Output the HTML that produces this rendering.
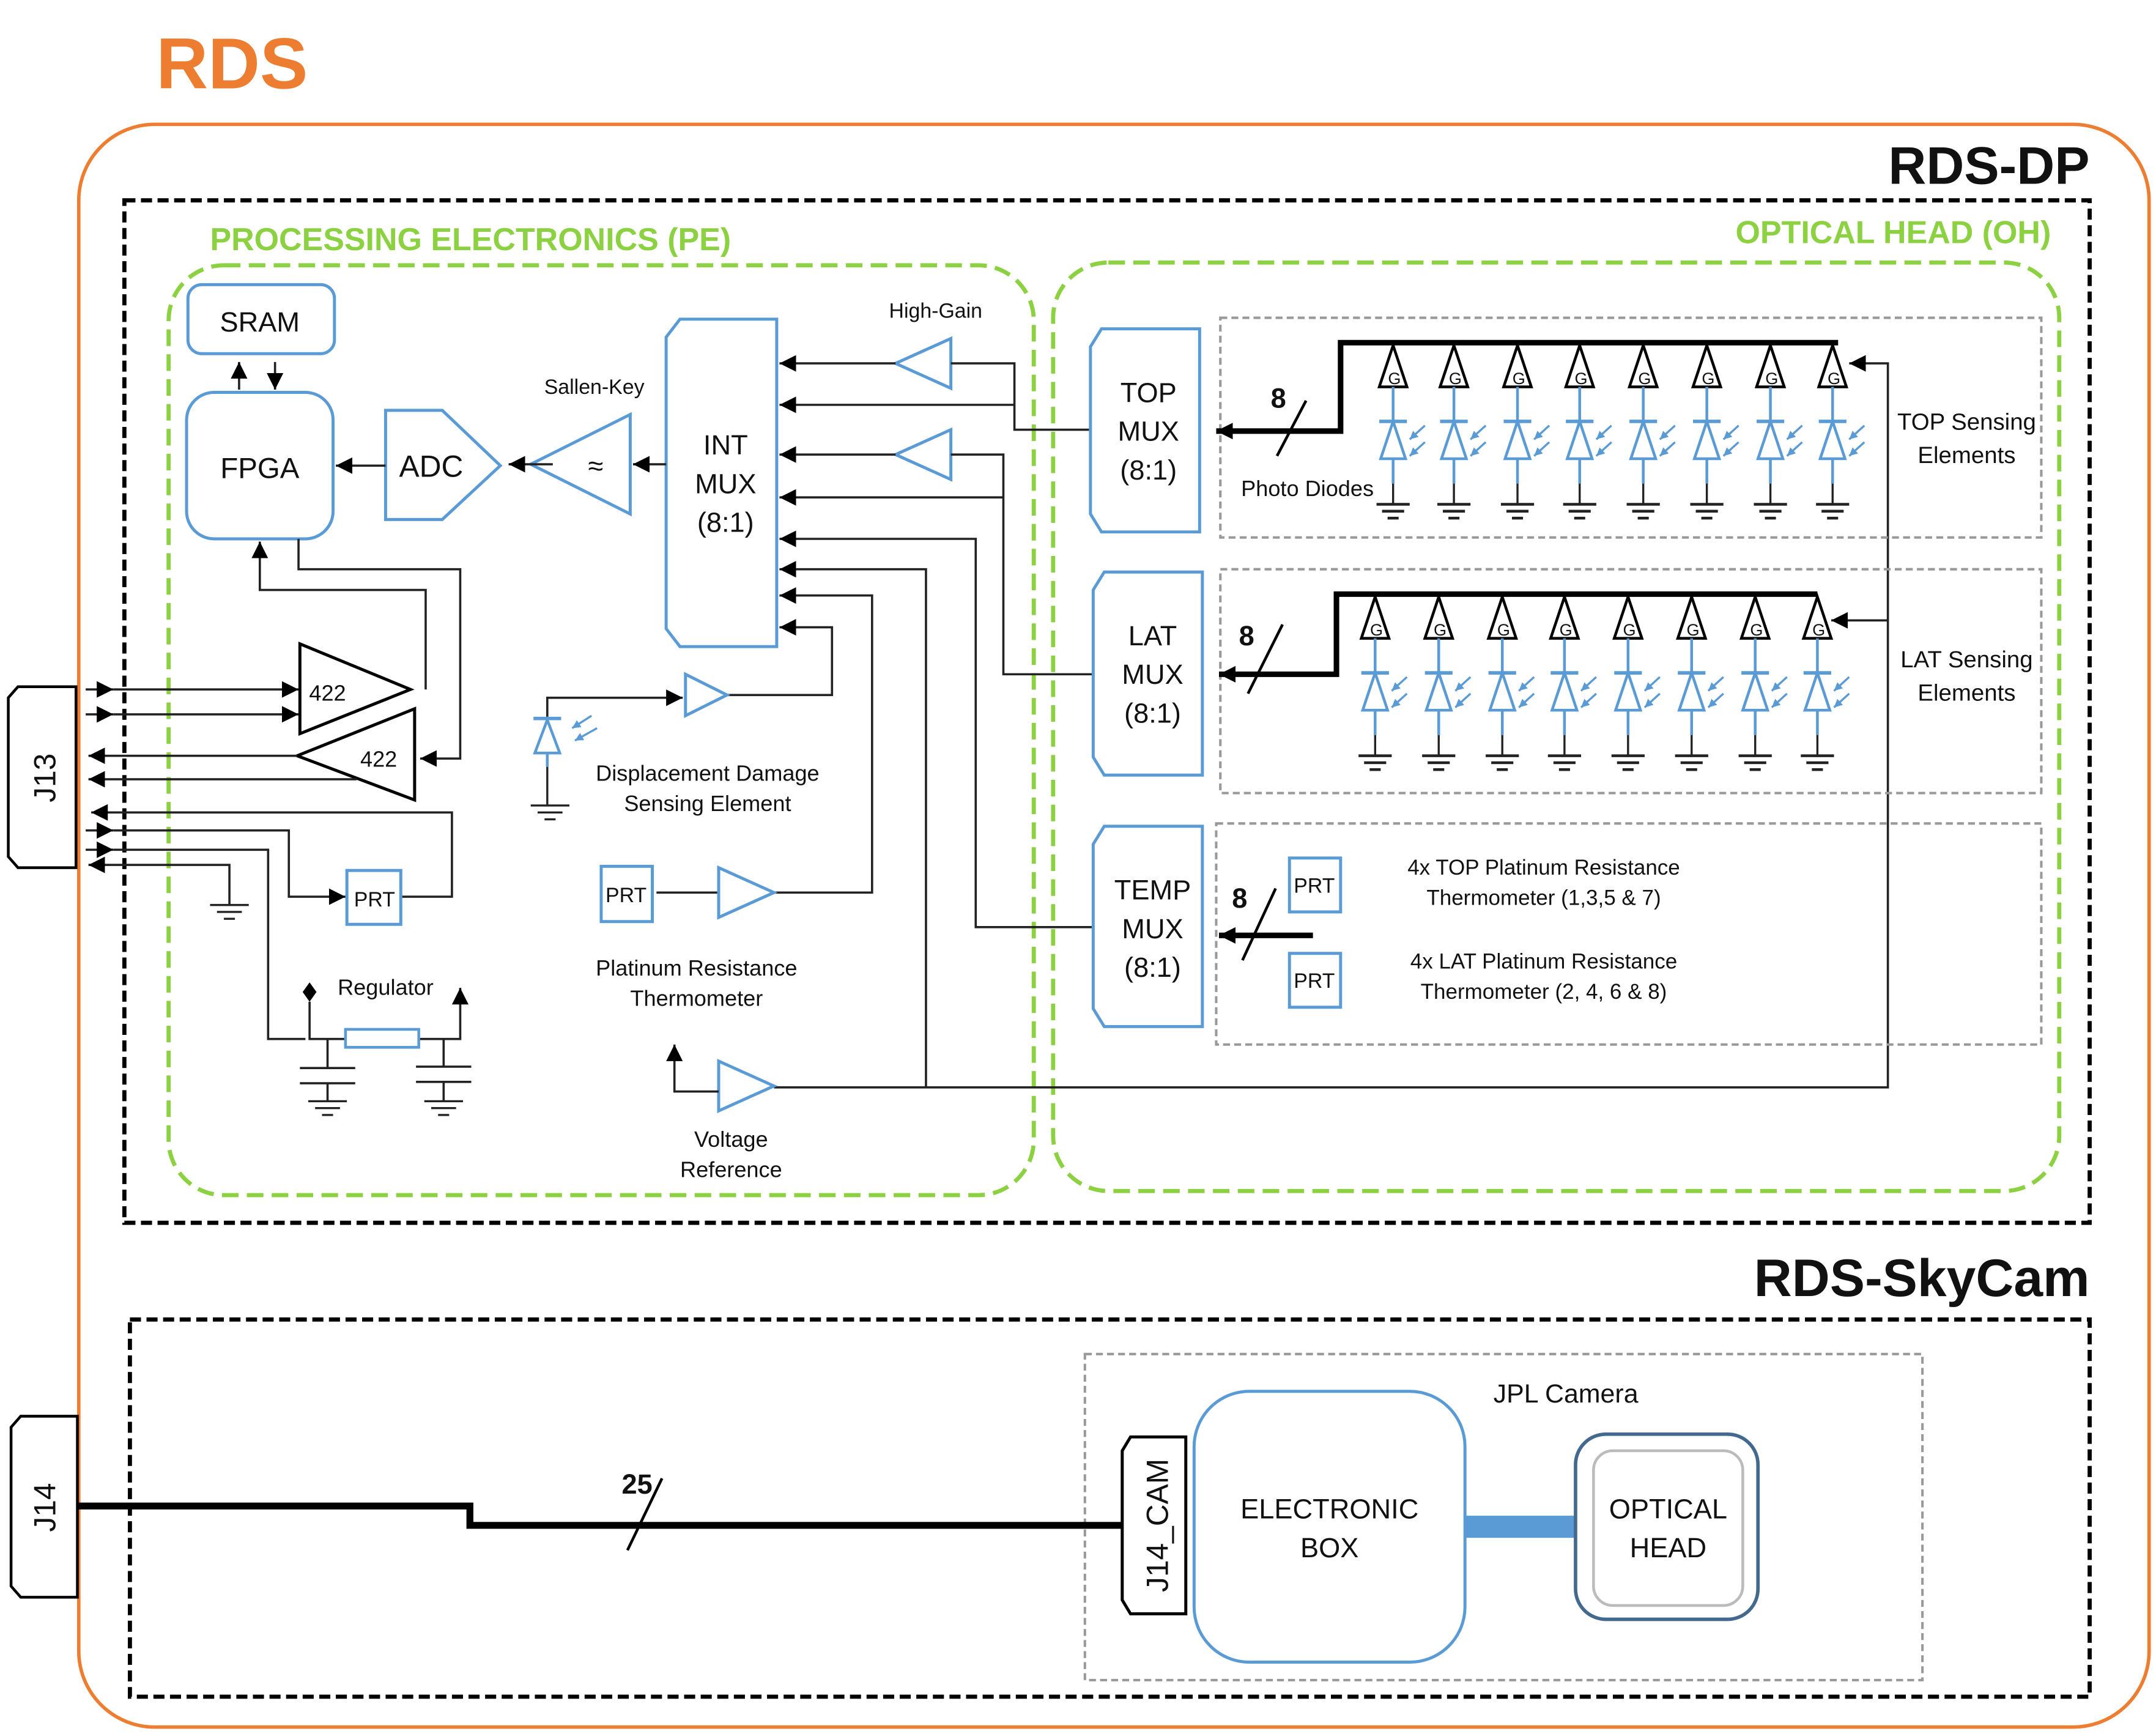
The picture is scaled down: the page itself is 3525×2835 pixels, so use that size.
<!DOCTYPE html>
<html><head><meta charset="utf-8">
<style>
html,body{margin:0;padding:0;background:#fff;}
svg{display:block;}
text{font-family:"Liberation Sans",sans-serif;fill:#111;}
</style></head>
<body>
<svg width="3525" height="2835" viewBox="0 0 1560 1255" preserveAspectRatio="none" xmlns="http://www.w3.org/2000/svg">
<defs>
<marker id="ah" markerUnits="userSpaceOnUse" markerWidth="14" markerHeight="14" refX="12" refY="6" orient="auto"><path d="M0,0 L12,6 L0,12 z" fill="#000"/></marker>
<marker id="bh" markerUnits="userSpaceOnUse" markerWidth="8" markerHeight="8" refX="6" refY="3" orient="auto"><path d="M0,0 L6,3 L0,6 z" fill="#5B9BD5"/></marker>
<g id="pd">
<path d="M-10,30 L10,30 L0,0 Z" fill="none" stroke="#000" stroke-width="2"/>
<line x1="0" y1="30" x2="0" y2="55" stroke="#5B9BD5" stroke-width="2"/>
<line x1="-10" y1="55" x2="10" y2="55" stroke="#5B9BD5" stroke-width="2.5"/>
<path d="M0,55 L-9,82 L9,82 Z" fill="none" stroke="#5B9BD5" stroke-width="2"/>
<line x1="0" y1="82" x2="0" y2="100" stroke="#5B9BD5" stroke-width="2"/>
<line x1="0" y1="100" x2="0" y2="115" stroke="#222" stroke-width="1.5"/>
<line x1="-12" y1="115" x2="12" y2="115" stroke="#222" stroke-width="2"/>
<line x1="-8" y1="120" x2="8" y2="120" stroke="#222" stroke-width="2"/>
<line x1="-4" y1="125" x2="4" y2="125" stroke="#222" stroke-width="2"/>
<line x1="23" y1="58" x2="12" y2="68" stroke="#5B9BD5" stroke-width="1.5" marker-end="url(#bh)"/>
<line x1="23" y1="70" x2="12" y2="80" stroke="#5B9BD5" stroke-width="1.5" marker-end="url(#bh)"/>
</g>
<g id="gnd">
<line x1="-14" y1="0" x2="14" y2="0" stroke="#222" stroke-width="1.5"/>
<line x1="-9" y1="5" x2="9" y2="5" stroke="#222" stroke-width="1.5"/>
<line x1="-4" y1="10" x2="4" y2="10" stroke="#222" stroke-width="1.5"/>
</g>
</defs>

<!-- RDS outer -->
<text x="113" y="64" font-size="52" font-weight="bold" style="fill:#ED7D31">RDS</text>
<rect x="57" y="90" width="1498" height="1160" rx="55" fill="none" stroke="#ED7D31" stroke-width="2.5"/>
<text x="1512" y="133" font-size="38" font-weight="bold" text-anchor="end">RDS-DP</text>
<rect x="90" y="145" width="1422" height="740" fill="none" stroke="#000" stroke-width="3" stroke-dasharray="8,4"/>

<text x="152" y="181" font-size="23" font-weight="bold" style="fill:#8CD142">PROCESSING ELECTRONICS (PE)</text>
<text x="1484" y="176" font-size="23" font-weight="bold" text-anchor="end" style="fill:#8CD142">OPTICAL HEAD (OH)</text>
<rect x="122" y="192" width="626" height="673" rx="40" fill="none" stroke="#8CD142" stroke-width="3" stroke-dasharray="12,6"/>
<rect x="762" y="190" width="728" height="672" rx="40" fill="none" stroke="#8CD142" stroke-width="3" stroke-dasharray="12,6"/>

<!-- SRAM / FPGA / ADC / Sallen-Key -->
<g fill="none" stroke="#5B9BD5" stroke-width="2.2">
<rect x="136" y="206" width="106" height="50" rx="10"/>
<rect x="135" y="284" width="106" height="106" rx="20"/>
<path d="M279,297 L320,297 L362,337 L320,376 L279,376 Z"/>
<path d="M384,336 L456,300 L456,372 Z"/>
<path d="M492,231 L562,231 L562,468 L492,468 L482,455 L482,244 Z"/>
</g>
<text x="188" y="240" font-size="20" text-anchor="middle">SRAM</text>
<text x="188" y="346" font-size="21" text-anchor="middle">FPGA</text>
<text x="312" y="345" font-size="22" text-anchor="middle">ADC</text>
<text x="430" y="285" font-size="15" text-anchor="middle">Sallen-Key</text>
<text x="431" y="344" font-size="20" text-anchor="middle">≈</text>
<text x="525" y="329" font-size="20" text-anchor="middle">INT</text>
<text x="525" y="357" font-size="20" text-anchor="middle">MUX</text>
<text x="525" y="385" font-size="20" text-anchor="middle">(8:1)</text>

<g stroke="#222" stroke-width="1.6" fill="none">
<line x1="173" y1="282" x2="173" y2="262" marker-end="url(#ah)"/>
<line x1="199" y1="262" x2="199" y2="282" marker-end="url(#ah)"/>
<line x1="279" y1="337" x2="243" y2="337" marker-end="url(#ah)"/>
<line x1="400" y1="336" x2="368" y2="336" marker-end="url(#ah)"/>
<line x1="482" y1="336" x2="458" y2="336" marker-end="url(#ah)"/>
<polyline points="308,499 308,427 188,427 188,392" marker-end="url(#ah)"/>
<polyline points="216,390 216,412 333,412 333,549 304,549" marker-end="url(#ah)"/>
</g>

<!-- High gain -->
<g fill="none" stroke="#5B9BD5" stroke-width="2.2">
<path d="M648,263 L688,245 L688,281 Z"/>
<path d="M648,329 L688,311 L688,347 Z"/>
</g>
<text x="677" y="230" font-size="15" text-anchor="middle">High-Gain</text>

<g stroke="#222" stroke-width="1.6" fill="none">
<line x1="648" y1="263" x2="564" y2="263" marker-end="url(#ah)"/>
<polyline points="688,263 734,263 734,311 789,311"/>
<line x1="734" y1="293" x2="564" y2="293" marker-end="url(#ah)"/>
<line x1="648" y1="329" x2="564" y2="329" marker-end="url(#ah)"/>
<polyline points="688,329 726,329 726,488 791,488"/>
<line x1="726" y1="360" x2="564" y2="360" marker-end="url(#ah)"/>
<polyline points="791,671 706,671 706,390 564,390" marker-end="url(#ah)"/>
<polyline points="670,787 670,412 564,412" marker-end="url(#ah)"/>
<polyline points="560,646 631,646 631,431 564,431" marker-end="url(#ah)"/>
<polyline points="526,503 602,503 602,454 564,454" marker-end="url(#ah)"/>
<polyline points="560,787 1366,787 1366,263 1338,263" marker-end="url(#ah)"/>
<polyline points="1366,449 1325,449" marker-end="url(#ah)"/>
</g>

<!-- DD sensing -->
<path d="M496,488 L526,503 L496,518 Z" fill="none" stroke="#5B9BD5" stroke-width="2.2"/>
<polyline points="396,520 396,505 494,505" fill="none" stroke="#222" stroke-width="1.6" marker-end="url(#ah)"/>
<line x1="386" y1="520" x2="406" y2="520" stroke="#5B9BD5" stroke-width="2.5"/>
<path d="M396,521 L387,545 L405,545 Z" fill="none" stroke="#5B9BD5" stroke-width="2"/>
<line x1="396" y1="545" x2="396" y2="555" stroke="#5B9BD5" stroke-width="2"/>
<line x1="396" y1="555" x2="396" y2="583" stroke="#222" stroke-width="1.5"/>
<use href="#gnd" x="398" y="583"/>
<line x1="428" y1="518" x2="414" y2="527" stroke="#5B9BD5" stroke-width="1.5" marker-end="url(#bh)"/>
<line x1="432" y1="527" x2="416" y2="536" stroke="#5B9BD5" stroke-width="1.5" marker-end="url(#bh)"/>
<text x="512" y="565" font-size="16" text-anchor="middle">Displacement Damage</text>
<text x="512" y="587" font-size="16" text-anchor="middle">Sensing Element</text>

<!-- PRT -->
<rect x="435" y="627" width="37" height="40" fill="none" stroke="#5B9BD5" stroke-width="2.2"/>
<text x="453" y="653" font-size="15" text-anchor="middle">PRT</text>
<line x1="475" y1="646" x2="520" y2="646" stroke="#222" stroke-width="1.6"/>
<path d="M520,628 L560,646 L520,664 Z" fill="none" stroke="#5B9BD5" stroke-width="2.2"/>
<text x="504" y="706" font-size="16" text-anchor="middle">Platinum Resistance</text>
<text x="504" y="728" font-size="16" text-anchor="middle">Thermometer</text>

<!-- Voltage ref -->
<path d="M520,768 L560,786 L520,804 Z" fill="none" stroke="#5B9BD5" stroke-width="2.2"/>
<polyline points="520,790 488,790 488,756" fill="none" stroke="#222" stroke-width="1.6" marker-end="url(#ah)"/>
<text x="529" y="830" font-size="16" text-anchor="middle">Voltage</text>
<text x="529" y="852" font-size="16" text-anchor="middle">Reference</text>

<!-- J13 & 422 -->
<path d="M13,497 L55,497 L55,628 L13,628 L6,620 L6,505 Z" fill="none" stroke="#000" stroke-width="2"/>
<text x="0" y="0" font-size="22" text-anchor="middle" transform="translate(40,563) rotate(-90)">J13</text>
<path d="M217,466 L297,499 L217,531 Z" fill="none" stroke="#000" stroke-width="2.2"/>
<text x="237" y="507" font-size="16" text-anchor="middle">422</text>
<path d="M215,547 L300,513 L300,579 Z" fill="none" stroke="#000" stroke-width="2.2"/>
<text x="274" y="555" font-size="16" text-anchor="middle">422</text>
<g stroke="#222" stroke-width="1.6" fill="none">
<line x1="62" y1="499" x2="82" y2="499" marker-end="url(#ah)"/>
<line x1="82" y1="499" x2="216" y2="499" marker-end="url(#ah)"/>
<line x1="62" y1="517" x2="82" y2="517" marker-end="url(#ah)"/>
<line x1="82" y1="517" x2="216" y2="517" marker-end="url(#ah)"/>
<line x1="215" y1="547" x2="64" y2="547" marker-end="url(#ah)"/>
<line x1="258" y1="564" x2="64" y2="564" marker-end="url(#ah)"/>
<polyline points="290,649 327,649 327,588 66,588" marker-end="url(#ah)"/>
<line x1="62" y1="601" x2="82" y2="601" marker-end="url(#ah)"/>
<polyline points="82,601 209,601 209,649 250,649" marker-end="url(#ah)"/>
<line x1="62" y1="615" x2="82" y2="615" marker-end="url(#ah)"/>
<polyline points="82,615 194,615 194,752 221,752"/>
<polyline points="166,655 166,626 64,626" marker-end="url(#ah)"/>
</g>
<use href="#gnd" x="166" y="655"/>
<rect x="251" y="630" width="39" height="39" fill="none" stroke="#5B9BD5" stroke-width="2.2"/>
<text x="271" y="656" font-size="15" text-anchor="middle">PRT</text>

<!-- Regulator -->
<text x="279" y="720" font-size="16" text-anchor="middle">Regulator</text>
<path d="M224,711 L229,718 L224,725 L219,718 Z" fill="#000"/>
<g stroke="#222" stroke-width="1.6" fill="none">
<polyline points="224,725 224,752 250,752"/>
<polyline points="303,752 333,752 333,715" marker-end="url(#ah)"/>
<line x1="237" y1="752" x2="237" y2="773"/>
<line x1="217" y1="773" x2="257" y2="773"/>
<line x1="217" y1="784" x2="257" y2="784"/>
<line x1="237" y1="784" x2="237" y2="797"/>
<line x1="321" y1="752" x2="321" y2="772"/>
<line x1="301" y1="772" x2="341" y2="772"/>
<line x1="301" y1="783" x2="341" y2="783"/>
<line x1="321" y1="783" x2="321" y2="797"/>
</g>
<use href="#gnd" x="237" y="797"/>
<use href="#gnd" x="321" y="797"/>
<rect x="250" y="745" width="53" height="13" fill="#fff" stroke="#5B9BD5" stroke-width="2"/>

<!-- OH mux -->
<g fill="none" stroke="#5B9BD5" stroke-width="2.2">
<path d="M797,238 L868,238 L868,385 L797,385 L789,372 L789,251 Z"/>
<path d="M799,414 L870,414 L870,561 L799,561 L791,548 L791,427 Z"/>
<path d="M799,598 L870,598 L870,743 L799,743 L791,730 L791,611 Z"/>
</g>
<text x="831" y="291" font-size="20" text-anchor="middle">TOP</text>
<text x="831" y="319" font-size="20" text-anchor="middle">MUX</text>
<text x="831" y="347" font-size="20" text-anchor="middle">(8:1)</text>
<text x="834" y="467" font-size="20" text-anchor="middle">LAT</text>
<text x="834" y="495" font-size="20" text-anchor="middle">MUX</text>
<text x="834" y="523" font-size="20" text-anchor="middle">(8:1)</text>
<text x="834" y="651" font-size="20" text-anchor="middle">TEMP</text>
<text x="834" y="679" font-size="20" text-anchor="middle">MUX</text>
<text x="834" y="707" font-size="20" text-anchor="middle">(8:1)</text>

<!-- gray boxes -->
<g fill="none" stroke="#999" stroke-width="1.8" stroke-dasharray="5,3">
<rect x="883" y="230" width="594" height="159"/>
<rect x="883" y="412" width="594" height="162"/>
<rect x="880" y="596" width="597" height="160"/>
<rect x="785" y="980" width="606" height="236"/>
</g>

<!-- TOP sensors -->
<polyline points="1330,248 970,248 970,312 880,312" fill="none" stroke="#000" stroke-width="4" marker-end="url(#ah)"/>
<line x1="945" y1="290" x2="924" y2="330" stroke="#000" stroke-width="2"/>
<text x="925" y="295" font-size="20" font-weight="bold" text-anchor="middle">8</text>
<text x="946" y="359" font-size="16" text-anchor="middle">Photo Diodes</text>
<use href="#pd" x="1008" y="250"/><use href="#pd" x="1052" y="250"/><use href="#pd" x="1098" y="250"/><use href="#pd" x="1143" y="250"/>
<use href="#pd" x="1189" y="250"/><use href="#pd" x="1235" y="250"/><use href="#pd" x="1281" y="250"/><use href="#pd" x="1326" y="250"/>
<g font-size="12" text-anchor="middle">
<text x="1009" y="278">G</text><text x="1053" y="278">G</text><text x="1099" y="278">G</text><text x="1144" y="278">G</text>
<text x="1190" y="278">G</text><text x="1236" y="278">G</text><text x="1282" y="278">G</text><text x="1327" y="278">G</text>
</g>
<text x="1423" y="311" font-size="17" text-anchor="middle">TOP Sensing</text>
<text x="1423" y="335" font-size="17" text-anchor="middle">Elements</text>

<!-- LAT sensors -->
<polyline points="1315,430 967,430 967,488 882,488" fill="none" stroke="#000" stroke-width="4" marker-end="url(#ah)"/>
<line x1="928" y1="452" x2="903" y2="502" stroke="#000" stroke-width="2"/>
<text x="902" y="467" font-size="20" font-weight="bold" text-anchor="middle">8</text>
<use href="#pd" x="995" y="432"/><use href="#pd" x="1041" y="432"/><use href="#pd" x="1087" y="432"/><use href="#pd" x="1132" y="432"/>
<use href="#pd" x="1178" y="432"/><use href="#pd" x="1224" y="432"/><use href="#pd" x="1270" y="432"/><use href="#pd" x="1315" y="432"/>
<g font-size="12" text-anchor="middle">
<text x="996" y="460">G</text><text x="1042" y="460">G</text><text x="1088" y="460">G</text><text x="1133" y="460">G</text>
<text x="1179" y="460">G</text><text x="1225" y="460">G</text><text x="1271" y="460">G</text><text x="1316" y="460">G</text>
</g>
<text x="1423" y="483" font-size="17" text-anchor="middle">LAT Sensing</text>
<text x="1423" y="507" font-size="17" text-anchor="middle">Elements</text>

<!-- TEMP -->
<line x1="950" y1="677" x2="882" y2="677" stroke="#000" stroke-width="4" marker-end="url(#ah)"/>
<line x1="923" y1="643" x2="899" y2="695" stroke="#000" stroke-width="2"/>
<text x="897" y="657" font-size="20" font-weight="bold" text-anchor="middle">8</text>
<rect x="933" y="621" width="37" height="39" fill="none" stroke="#5B9BD5" stroke-width="2.2"/>
<text x="951" y="646" font-size="15" text-anchor="middle">PRT</text>
<rect x="933" y="690" width="37" height="39" fill="none" stroke="#5B9BD5" stroke-width="2.2"/>
<text x="951" y="715" font-size="15" text-anchor="middle">PRT</text>
<text x="1117" y="633" font-size="15.5" text-anchor="middle">4x TOP Platinum Resistance</text>
<text x="1117" y="655" font-size="15.5" text-anchor="middle">Thermometer (1,3,5 &amp; 7)</text>
<text x="1117" y="701" font-size="15.5" text-anchor="middle">4x LAT Platinum Resistance</text>
<text x="1117" y="723" font-size="15.5" text-anchor="middle">Thermometer (2, 4, 6 &amp; 8)</text>

<!-- SkyCam -->
<text x="1512" y="938" font-size="38" font-weight="bold" text-anchor="end">RDS-SkyCam</text>
<rect x="94" y="955" width="1418" height="273" fill="none" stroke="#000" stroke-width="3" stroke-dasharray="8,4"/>
<path d="M15,1025 L56,1025 L56,1156 L15,1156 L8,1148 L8,1033 Z" fill="#fff" stroke="#000" stroke-width="2"/>
<text x="0" y="0" font-size="22" text-anchor="middle" transform="translate(40,1091) rotate(-90)">J14</text>
<polyline points="56,1090 340,1090 340,1104 812,1104" fill="none" stroke="#000" stroke-width="5"/>
<line x1="479" y1="1070" x2="454" y2="1122" stroke="#000" stroke-width="2"/>
<text x="461" y="1081" font-size="20" font-weight="bold" text-anchor="middle">25</text>
<text x="1133" y="1015" font-size="19" text-anchor="middle">JPL Camera</text>
<path d="M818,1040 L858,1040 L858,1168 L818,1168 L812,1158 L812,1050 Z" fill="#fff" stroke="#000" stroke-width="2.2"/>
<text x="0" y="0" font-size="22" text-anchor="middle" transform="translate(845,1104) rotate(-90)">J14_CAM</text>
<rect x="864" y="1007" width="196" height="196" rx="40" fill="none" stroke="#5B9BD5" stroke-width="2.2"/>
<text x="962" y="1099" font-size="20" text-anchor="middle">ELECTRONIC</text>
<text x="962" y="1127" font-size="20" text-anchor="middle">BOX</text>
<rect x="1060" y="1097" width="80" height="16" fill="#5B9BD5"/>
<rect x="1140" y="1038" width="132" height="134" rx="22" fill="#fff" stroke="#44698F" stroke-width="2.5"/>
<rect x="1153" y="1050" width="108" height="112" rx="14" fill="none" stroke="#bbb" stroke-width="2"/>
<text x="1207" y="1099" font-size="20" text-anchor="middle">OPTICAL</text>
<text x="1207" y="1127" font-size="20" text-anchor="middle">HEAD</text>
</svg>
</body></html>
